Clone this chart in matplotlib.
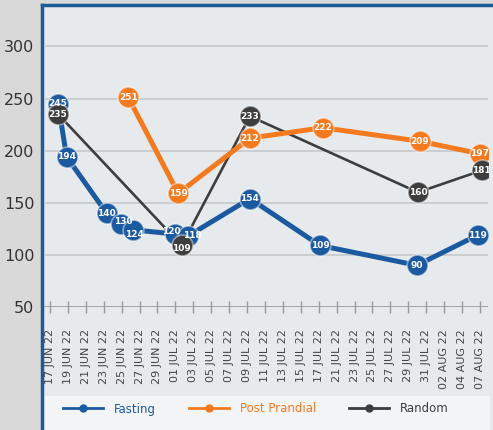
import matplotlib.pyplot as plt
from matplotlib.patches import Rectangle
from matplotlib.lines import Line2D

# tick labels (categorical date axis, one slot per label)
date_labels = ["17 JUN 22", "19 JUN 22", "21 JUN 22", "23 JUN 22", "25 JUN 22",
               "27 JUN 22", "29 JUN 22", "01 JUL 22", "03 JUL 22", "05 JUL 22",
               "07 JUL 22", "09 JUL 22", "11 JUL 22", "13 JUL 22", "15 JUL 22",
               "17 JUL 22", "21 JUL 22", "23 JUL 22", "25 JUL 22", "27 JUL 22",
               "29 JUL 22", "31 JUL 22", "02 AUG 22", "04 AUG 22", "07 AUG 22"]

# readings, x given in label-slot units
fasting_x = [0.45, 0.93, 3.16, 3.99, 4.65, 6.98, 7.7, 11.16, 15.07, 20.48, 23.88]
fasting = [245, 194, 140, 130, 124, 120, 118, 154, 109, 90, 119]

pp_x = [4.37, 7.16, 11.16, 15.23, 20.65, 24.0]
post_prandial = [251, 159, 212, 222, 209, 197]

random_x = [0.45, 7.35, 11.16, 20.54, 24.1]
random_vals = [235, 109, 233, 160, 181]

yticks = [50, 100, 150, 200, 250, 300]

BLUE = "#1b5aa0"
ORANGE = "#f47a1f"
GRAY = "#3d3d3d"

# nudges (points) for crowded value labels, as in the original
nudge = {("Fasting", 3): (1.5, 1.5), ("Fasting", 4): (1, -3),
         ("Fasting", 5): (-2.5, 1.5), ("Fasting", 6): (3, 0.5),
         ("Random", 1): (0, -2.5)}

W, H = 493, 430
fig = plt.figure(figsize=(W / 100, H / 100), dpi=100, facecolor="#d9d9d9")

# card behind the chart
fig.patches.append(Rectangle((42 / W, -0.02), 1.0, 1 - 5 / H + 0.02, transform=fig.transFigure,
                             facecolor="#e7eaed", edgecolor="none", zorder=-5))
fig.add_artist(Line2D([42 / W, 42 / W], [0, 1 - 5 / H], transform=fig.transFigure,
                      color="#1d5a96", lw=2.5, zorder=-4))
fig.add_artist(Line2D([42 / W, 1], [1 - 5 / H, 1 - 5 / H], transform=fig.transFigure,
                      color="#1d5a96", lw=2.5, zorder=-4))
# legend box
fig.patches.append(Rectangle((45 / W, 0), 445 / W, 34 / H, transform=fig.transFigure,
                             facecolor="#f3f4f6", edgecolor="none", zorder=-3))

ax = fig.add_axes([44 / W, 1 - 307 / H, 444 / W, 295 / H])
ax.set_zorder(1)
ax.set_facecolor("none")
ax.set_xlim(-0.335, 24.45)
ax.set_ylim(50, 333)

for s in ax.spines.values():
    s.set_visible(False)
for y in yticks[1:]:
    ax.axhline(y, color="#c6c9cc", lw=1.2, zorder=1)
ax.axhline(50, color="#9a9a9a", lw=1.2, zorder=1)

ax.set_yticks(yticks)
ax.tick_params(axis="y", length=0, pad=7, labelsize=11.5, labelcolor="#333333")
ax.set_xticks(range(len(date_labels)))
ax.set_xticklabels(date_labels, rotation=90, fontsize=8, color="#444444")
ax.tick_params(axis="x", direction="inout", length=8, width=1, color="#9a9a9a", pad=12)

series = [
    (random_x, random_vals, GRAY, 1.9, "Random"),
    (pp_x, post_prandial, ORANGE, 3.6, "Post Prandial"),
    (fasting_x, fasting, BLUE, 3.6, "Fasting"),
]
for xs, ys, c, lw, _ in series:
    ax.plot(xs, ys, color=c, lw=lw, zorder=2, solid_capstyle="round")

for xs, ys, c, lw, name in [series[2], series[1], series[0]]:
    ax.plot(xs, ys, ls="none", marker="o", ms=15, color=c,
            mec=(1, 1, 1, 0.45), mew=1.2, zorder=3)

# value labels on top of every marker
for xs, ys, c, lw, name in series:
    for i, (x, y) in enumerate(zip(xs, ys)):
        ax.annotate(str(y), (x, y), xytext=nudge.get((name, i), (0, 0)),
                    textcoords="offset points", color="white", fontsize=6.5,
                    fontweight="bold", ha="center", va="center", zorder=5)

handles = [Line2D([], [], color=BLUE, lw=2, marker="o", ms=5),
           Line2D([], [], color=ORANGE, lw=2, marker="o", ms=5),
           Line2D([], [], color=GRAY, lw=2, marker="o", ms=5)]
leg = fig.legend(handles, ["Fasting", "Post Prandial", "Random"], loc="center",
                 bbox_to_anchor=(256 / W, 1 - 409 / H), ncol=3, frameon=False,
                 fontsize=8.5, handlelength=3.4, handletextpad=0.9, columnspacing=2.8)
for t, c in zip(leg.get_texts(), [BLUE, ORANGE, GRAY]):
    t.set_color(c)

fig.savefig("out.png", dpi=100, facecolor=fig.get_facecolor())
